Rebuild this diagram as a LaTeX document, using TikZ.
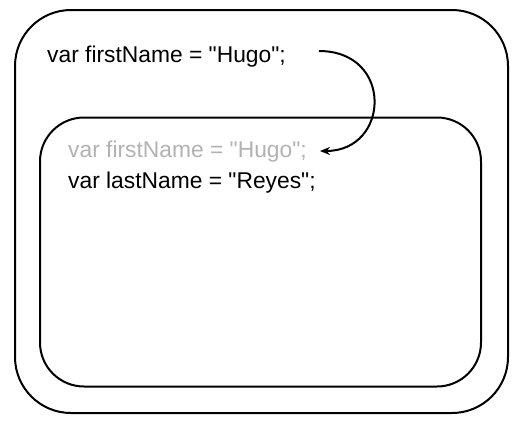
\documentclass[tikz,border=0pt]{standalone}
\usepackage{fontspec}
\setmainfont{Liberation Sans}[Ligatures=TeXOff]
\usetikzlibrary{arrows.meta}
\definecolor{ghost}{RGB}{178,178,178}
\tikzset{
  scopebox/.style={draw=black, line width=2pt, rounded corners=#1, inner sep=0pt},
  code/.style={anchor=base west, inner sep=0pt, font=\fontsize{22.8}{27}\selectfont},
  ghostcode/.style={code, text=ghost},
  flow/.style={line width=2pt, -{Stealth[length=10pt,width=8pt]}}
}
\begin{document}
\begin{tikzpicture}[x=1pt,y=-1pt]
\useasboundingbox (0,0) rectangle (515,424);
\node[scopebox=56pt, minimum width=493pt, minimum height=403pt] (outer) at (261.5,211.5) {};
\node[scopebox=44pt, minimum width=441pt, minimum height=269pt] (inner) at (260.5,252) {};
\node[code] (t1) at (47,62) {var firstName = "Hugo";};
\node[ghostcode] (t2) at (68,157) {var firstName = "Hugo";};
\node[code] (t3) at (68,188) {var lastName = "Reyes";};
\draw[flow] ([xshift=33pt,yshift=11pt]t1.base east) .. controls +(75pt,0pt) and +(70pt,0pt) .. ([xshift=13pt,yshift=6pt]t2.base east);
\end{tikzpicture}
\end{document}
